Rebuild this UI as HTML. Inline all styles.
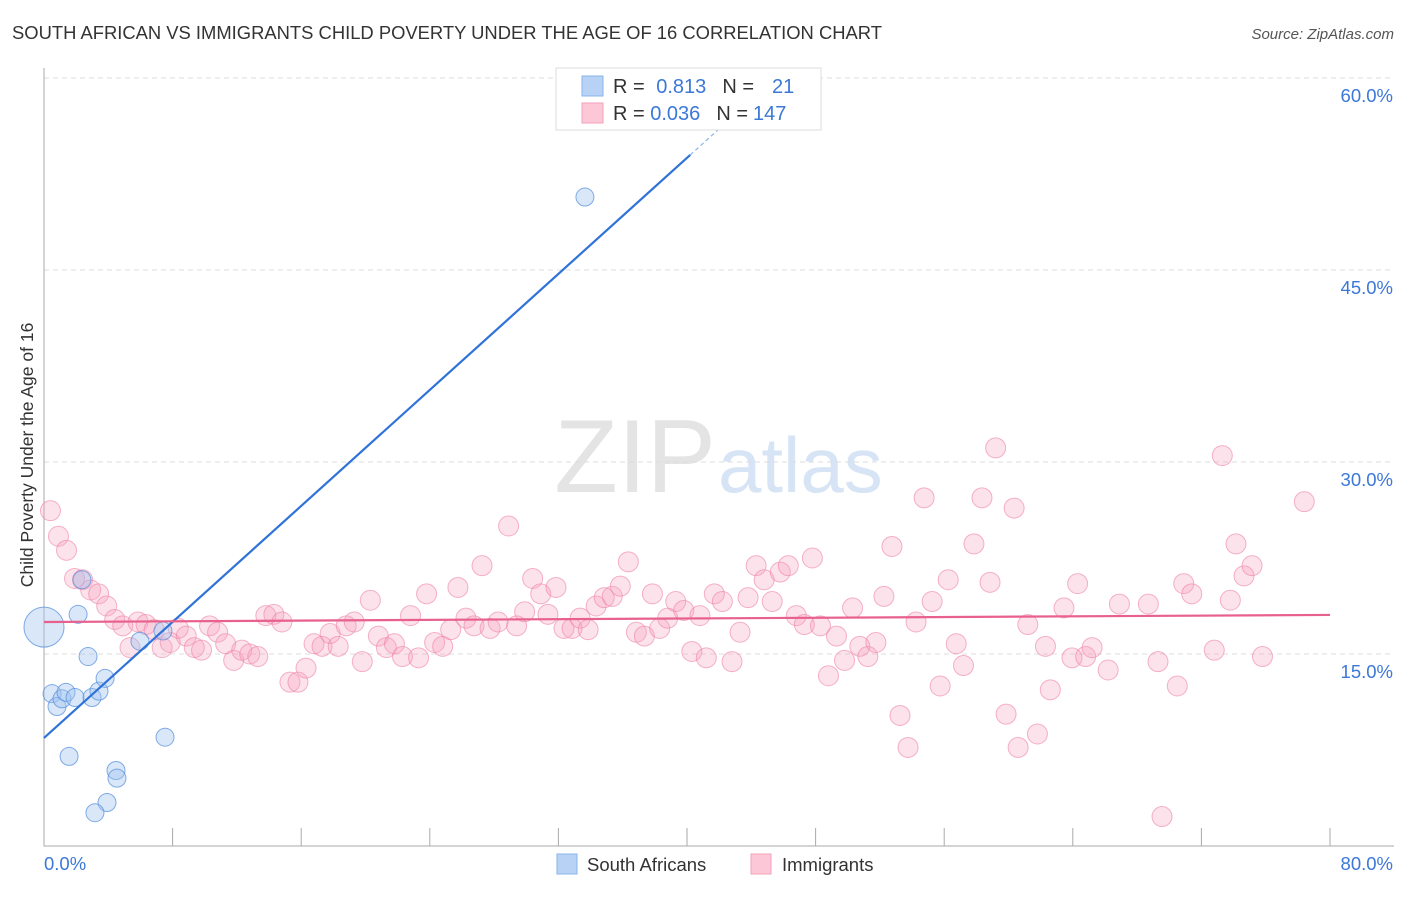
<!DOCTYPE html>
<html><head><meta charset="utf-8"><style>
body{margin:0;background:#fff;font-family:"Liberation Sans",sans-serif}
svg text{font-family:"Liberation Sans",sans-serif}
</style></head><body>
<svg width="1406" height="892" viewBox="0 0 1406 892">
<text x="12" y="39" font-size="18.4" fill="#333">SOUTH AFRICAN VS IMMIGRANTS CHILD POVERTY UNDER THE AGE OF 16 CORRELATION CHART</text>
<text x="1394" y="39" font-size="15" fill="#555" font-style="italic" text-anchor="end">Source: ZipAtlas.com</text>
<text x="716" y="492" font-size="104" fill="#e4e4e4" text-anchor="end" font-family="Liberation Serif">ZIP</text>
<text x="718" y="492" font-size="78" fill="#d6e4f5">atlas</text>
<g id="grid"></g>
<g id="axes"></g>
<g id="pts"></g>
<g id="lines"></g>
<text transform="translate(33,455) rotate(-90)" font-size="17.5" fill="#333" text-anchor="middle">Child Poverty Under the Age of 16</text>
<g>
<rect x="556" y="68" width="265" height="62" fill="#fff" stroke="#ddd"/>
<rect x="582" y="76" width="21" height="20" fill="#b8d2f5" stroke="#8ab4ea"/>
<rect x="582" y="103" width="21" height="20" fill="#fcc8d8" stroke="#f4a0b8"/>
<text x="613" y="93" font-size="20" fill="#333">R = <tspan fill="#3b78d8" dx="6">0.813</tspan><tspan dx="16" fill="#333">N =</tspan><tspan dx="18" fill="#3b78d8">21</tspan></text>
<text x="613" y="120" font-size="20" fill="#333">R = <tspan fill="#3b78d8">0.036</tspan><tspan dx="16" fill="#333">N =</tspan><tspan dx="5" fill="#3b78d8">147</tspan></text>
</g>
<g>
<rect x="557" y="854" width="20" height="20" fill="#b8d2f5" stroke="#8ab4ea"/>
<text x="587" y="871" font-size="18.5" fill="#333">South Africans</text>
<rect x="751" y="854" width="20" height="20" fill="#fcc8d8" stroke="#f4a0b8"/>
<text x="782" y="871" font-size="18.5" fill="#333">Immigrants</text>
</g>
</svg>
<script>
const yTicks=[15,30,45,60];
const yTickLabels=["15.0%","30.0%","45.0%","60.0%"];
const xTicks=[0,8,16,24,32,40,48,56,64,72,80];
const blueX=[0,0.5,0.81,1.12,1.37,1.93,2.12,2.74,2.99,3.42,3.8,1.56,4.48,4.54,3.92,3.17,7.4,5.97,7.53,33.65,2.36];
const blueY=[17.1,11.9,10.9,11.5,12.0,11.6,18.1,14.8,11.6,12.1,13.1,7.0,5.9,5.3,3.4,2.6,16.8,16.0,8.5,50.7,20.8];
const pinkX=[0.4,0.9,1.4,1.9,2.4,2.9,3.4,3.9,4.4,4.9,5.35,5.85,6.35,6.85,7.35,7.85,8.35,8.85,9.35,9.8,10.3,10.8,11.3,11.8,12.3,12.8,13.3,13.8,14.3,14.8,15.3,15.8,16.3,16.8,17.3,17.8,18.3,18.8,19.3,19.8,20.3,20.8,21.3,21.8,22.3,22.8,23.3,23.8,24.3,24.8,25.3,25.75,26.25,26.75,27.25,27.75,28.25,28.9,29.4,29.9,30.4,30.9,31.35,31.85,32.35,32.85,33.35,33.85,34.35,34.85,35.35,35.85,36.35,36.85,37.35,37.85,38.3,38.8,39.3,39.8,40.3,40.8,41.2,41.7,42.2,42.8,43.3,43.8,44.3,44.8,45.3,45.8,46.3,46.8,47.3,47.8,48.3,48.8,49.3,49.8,50.3,50.75,51.25,51.75,52.25,52.75,53.25,53.75,54.25,54.75,55.25,55.75,56.25,56.75,57.2,57.85,58.35,58.85,59.2,59.85,60.35,60.6,61.2,61.8,62.3,62.6,63.45,63.95,64.3,64.8,65.2,66.2,66.9,68.7,69.3,69.55,70.5,70.9,71.4,72.8,73.3,73.8,74.15,74.65,75.15,75.8,78.4];
const pinkY=[26.2,24.2,23.1,20.9,20.8,20.0,19.7,18.75,17.7,17.2,15.5,17.5,17.3,16.9,15.5,15.9,17.0,16.4,15.5,15.3,17.2,16.7,15.8,14.5,15.3,15.0,14.8,18.0,18.1,17.5,12.8,12.8,13.9,15.8,15.6,16.6,15.6,17.2,17.5,14.4,19.2,16.4,15.5,15.8,14.8,18.0,14.7,19.7,15.9,15.6,16.9,20.2,17.8,17.2,21.9,17.0,17.5,25.0,17.2,18.3,20.9,19.7,18.1,20.2,17.0,17.0,17.8,16.9,18.75,19.4,19.5,20.3,22.2,16.7,16.4,19.7,17.0,17.8,19.1,18.4,15.2,18.0,14.7,19.7,19.1,14.4,16.7,19.4,21.9,20.8,19.1,21.4,21.9,18.0,17.3,22.5,17.2,13.3,16.4,14.5,18.6,15.6,14.8,15.9,19.5,23.4,10.2,7.7,17.5,27.2,19.1,12.5,20.8,15.8,14.1,23.6,27.2,20.6,31.1,10.3,26.4,7.7,17.3,8.75,15.6,12.2,18.6,14.7,20.5,14.8,15.5,13.75,18.9,18.9,14.4,2.3,12.5,20.5,19.7,15.3,30.5,19.2,23.6,21.1,21.9,14.8,26.9];
const blueBig=[0];
const blueTrend=[8.44,1.133];
const pinkTrend=[17.5,0.0069];
const NS="http://www.w3.org/2000/svg";
const X=v=>44+v*(1286/80);
const Y=v=>846-v*12.8;
function mk(t,a,p){const e=document.createElementNS(NS,t);for(const k in a)e.setAttribute(k,a[k]);p.appendChild(e);return e;}
const grid=document.getElementById('grid'),axes=document.getElementById('axes'),pts=document.getElementById('pts'),lines=document.getElementById('lines');
yTicks.forEach((t,i)=>{
 const l=mk('line',{x1:44,x2:1394,y1:Y(t),y2:Y(t),stroke:'#ddd','stroke-dasharray':'5,4'},grid);
 
 
 const tx=mk('text',{x:1393,y:Y(t)+24,'font-size':18.5,fill:'#3b78d8','text-anchor':'end'},grid);
 tx.textContent=yTickLabels[i];
 
 
});
const ax=mk('path',{d:`M44,68V846H1394`,stroke:'#aaa',fill:'none'},axes);


xTicks.forEach(t=>{if(t===0)return;
 const l=mk('line',{x1:X(t),x2:X(t),y1:828,y2:846,stroke:'#aaa'},axes);
 
 
});
const x0=mk('text',{x:44,y:870,'font-size':18.5,fill:'#3b78d8'},axes);x0.textContent='0.0%';


const x1=mk('text',{x:1393,y:870,'font-size':18.5,fill:'#3b78d8','text-anchor':'end'},axes);x1.textContent='80.0%';


pinkX.forEach((v,i)=>{
 const c=mk('circle',{cx:X(v),cy:Y(pinkY[i]),r:10,fill:'rgba(246,160,188,0.3)',stroke:'rgba(238,130,165,0.6)'},pts);
 
 
});
blueX.forEach((v,i)=>{
 const c=mk('circle',{cx:X(v),cy:Y(blueY[i]),r:blueBig.includes(i)?20:9,fill:'rgba(160,196,240,0.4)',stroke:'rgba(80,140,220,0.7)'},pts);
 
 
});
const bl=mk('line',{x1:X(0),y1:Y(blueTrend[0]),x2:X(40.2),y2:Y(blueTrend[0]+blueTrend[1]*40.2),stroke:'#2f73d8','stroke-width':2.2},lines);


const bd=mk('line',{x1:X(40.2),y1:Y(blueTrend[0]+blueTrend[1]*40.2),x2:X(44),y2:Y(blueTrend[0]+blueTrend[1]*44),stroke:'#8ab4ea','stroke-width':1.2,'stroke-dasharray':'4,3'},lines);


const pl=mk('line',{x1:X(0),y1:Y(pinkTrend[0]),x2:X(80),y2:Y(pinkTrend[0]+pinkTrend[1]*80),stroke:'#e8608c','stroke-width':2.2},lines);


</script>
</body></html>
